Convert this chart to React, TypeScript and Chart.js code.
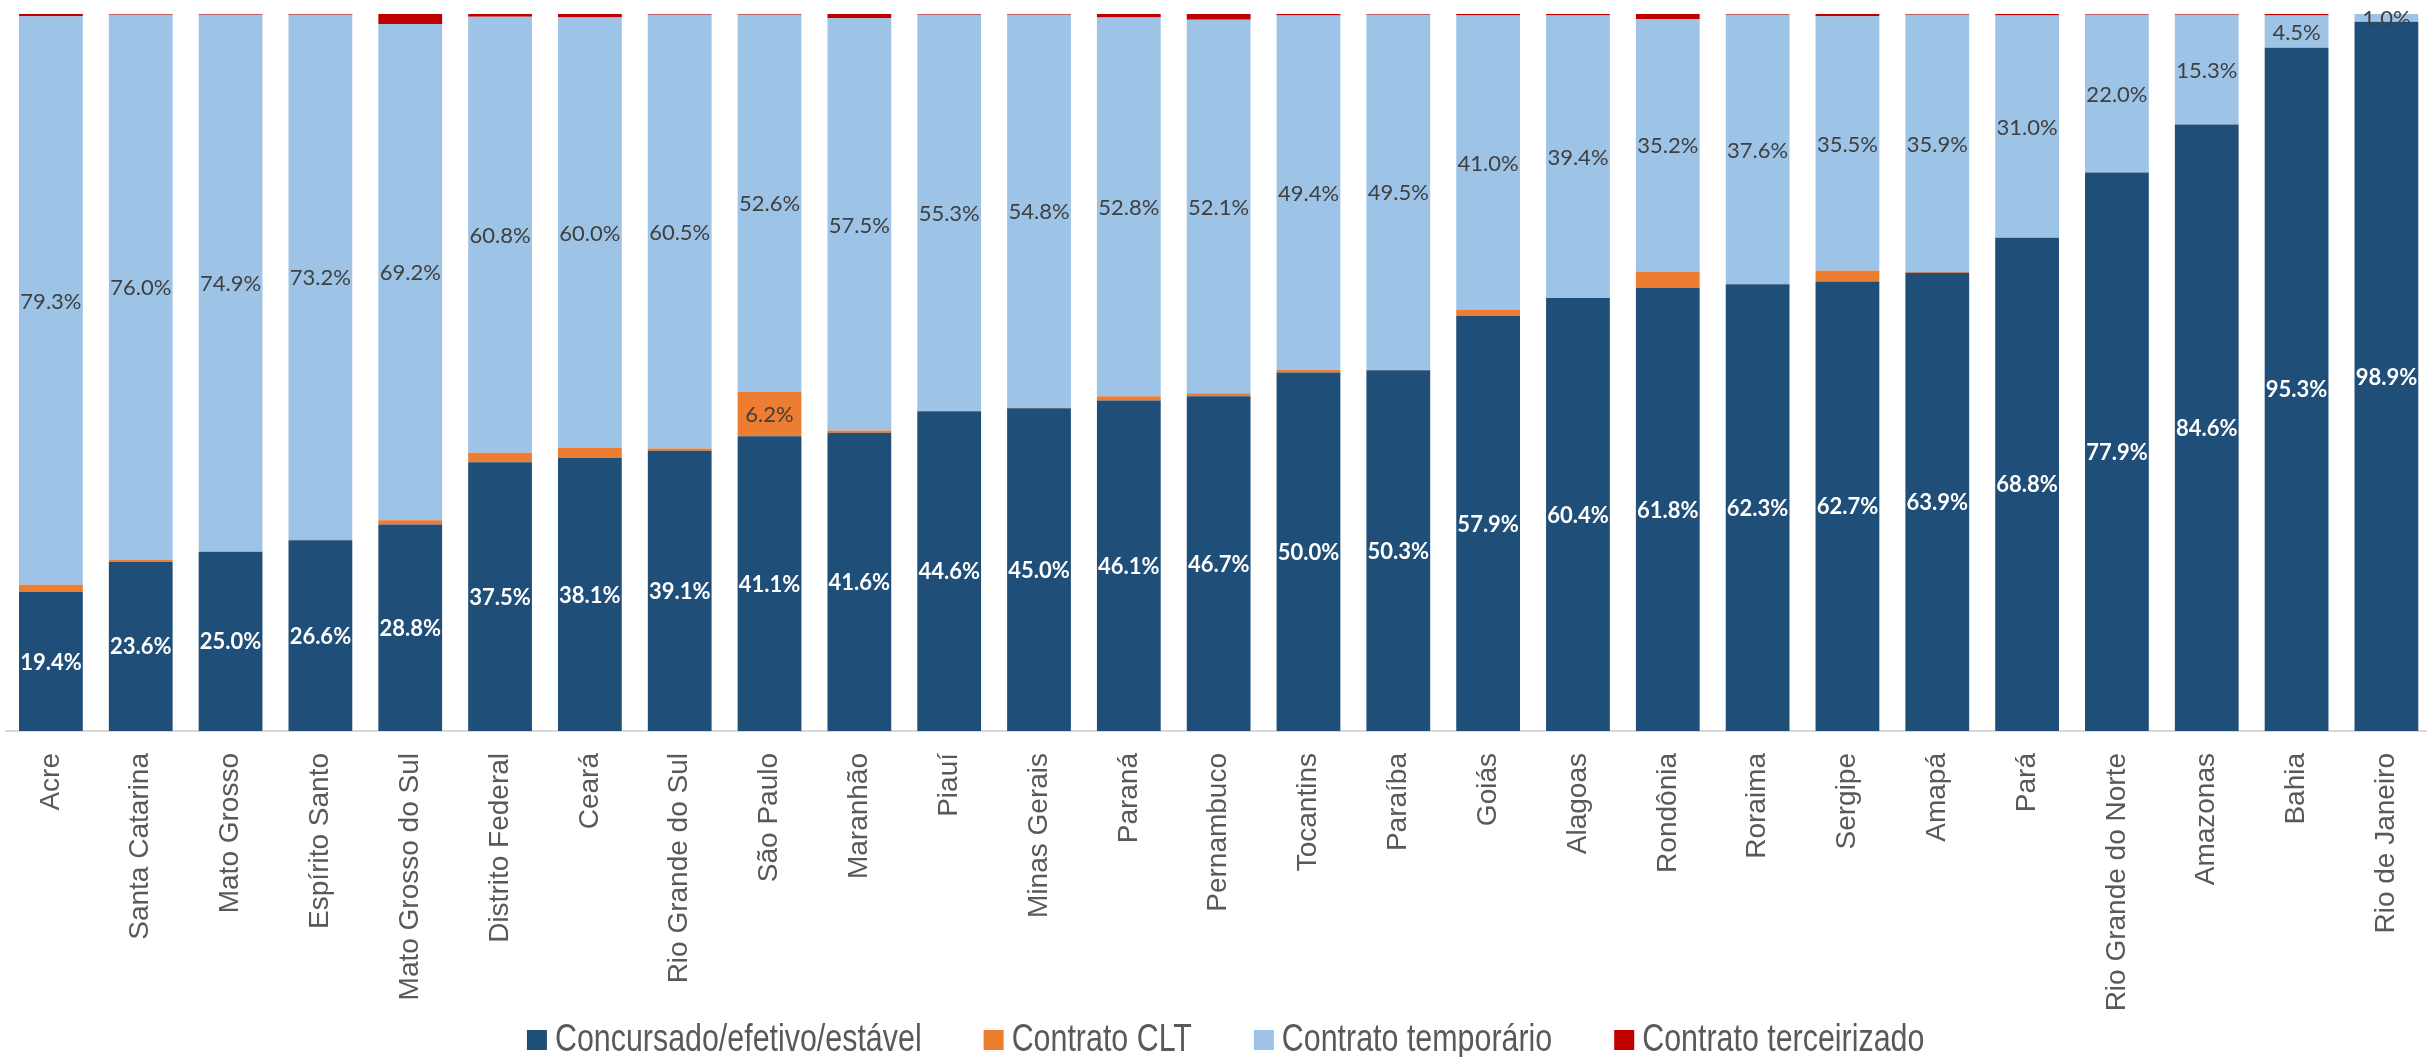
import React, { useEffect, useRef } from "react";
import { Chart, registerables } from "chart.js";

Chart.register(...registerables);

const states = [
  "Acre", "Santa Catarina", "Mato Grosso", "Espírito Santo", "Mato Grosso do Sul",
  "Distrito Federal", "Ceará", "Rio Grande do Sul", "São Paulo", "Maranhão",
  "Piauí", "Minas Gerais", "Paraná", "Pernambuco", "Tocantins", "Paraíba",
  "Goiás", "Alagoas", "Rondônia", "Roraima", "Sergipe", "Amapá", "Pará",
  "Rio Grande do Norte", "Amazonas", "Bahia", "Rio de Janeiro",
];

const concursado = [
  19.4, 23.6, 25.0, 26.6, 28.8, 37.5, 38.1, 39.1, 41.1, 41.6, 44.6, 45.0, 46.1, 46.7,
  50.0, 50.3, 57.9, 60.4, 61.8, 62.3, 62.7, 63.9, 68.8, 77.9, 84.6, 95.3, 98.9,
];
const clt = [
  1.0, 0.3, 0.0, 0.1, 0.6, 1.3, 1.4, 0.3, 6.2, 0.3, 0.0, 0.1, 0.6, 0.4,
  0.4, 0.1, 0.9, 0.0, 2.3, 0.0, 1.5, 0.1, 0.0, 0.0, 0.0, 0.0, 0.1,
];
const temporario = [
  79.3, 76.0, 74.9, 73.2, 69.2, 60.8, 60.0, 60.5, 52.6, 57.5, 55.3, 54.8, 52.8, 52.1,
  49.4, 49.5, 41.0, 39.4, 35.2, 37.6, 35.5, 35.9, 31.0, 22.0, 15.3, 4.5, 1.0,
];
const terceirizado = [
  0.3, 0.1, 0.1, 0.1, 1.4, 0.4, 0.5, 0.1, 0.1, 0.6, 0.1, 0.1, 0.5, 0.8,
  0.2, 0.1, 0.2, 0.2, 0.7, 0.1, 0.3, 0.1, 0.2, 0.1, 0.1, 0.2, 0.0,
];

const seriesNames = [
  "Concursado/efetivo/estável",
  "Contrato CLT",
  "Contrato temporário",
  "Contrato terceirizado",
];
const seriesColors = ["#1F4E79", "#ED7D31", "#9DC3E6", "#C00000"];
const seriesValues = [concursado, clt, temporario, terceirizado];

const CANVAS_W = 2442;
const CANVAS_H = 1057;

export default function App() {
  const ref = useRef<HTMLCanvasElement | null>(null);

  useEffect(() => {
    document.body.style.margin = "0";
    const canvas = ref.current;
    if (!canvas) return;

    const segLabels = {
      id: "segLabels",
      afterDatasetsDraw(chart: any) {
        const ctx = chart.ctx;
        ctx.save();
        ctx.textAlign = "center";
        ctx.textBaseline = "middle";
        chart.data.datasets.forEach((ds: any, di: number) => {
          const meta = chart.getDatasetMeta(di);
          meta.data.forEach((el: any, i: number) => {
            const v = ds.data[i] as number;
            const show = di === 0 || di === 2 || (di === 1 && v >= 3);
            if (!show) return;
            const p = el.getProps(["x", "y", "base"], true);
            ctx.font = di === 0 ? "bold 22px Lato, 'Open Sans', sans-serif" : "22px Lato, 'Open Sans', sans-serif";
            ctx.fillStyle = di === 0 ? "#FFFFFF" : "#404040";
            ctx.fillText(v.toFixed(1) + "%", p.x, (p.y + p.base) / 2 + 1);
          });
        });
        ctx.restore();
      },
    };

    const customLegend = {
      id: "customLegend",
      afterDraw(chart: any) {
        const ctx = chart.ctx;
        ctx.save();
        ctx.font = "38px 'Liberation Sans', Arial, sans-serif";
        ctx.textBaseline = "middle";
        ctx.textAlign = "left";
        const sx = 0.8;
        const box = 20;
        const gapText = 8;
        const gapItem = 62;
        const widths = seriesNames.map((n) => ctx.measureText(n).width * sx);
        const total =
          widths.reduce((a, w) => a + box + gapText + w, 0) + gapItem * (seriesNames.length - 1);
        const center = (chart.chartArea.left + chart.chartArea.right) / 2 + 7;
        let x = center - total / 2;
        const yMid = chart.height - 17;
        seriesNames.forEach((name, i) => {
          ctx.fillStyle = seriesColors[i];
          ctx.fillRect(x, yMid - 10, box, box);
          x += box + gapText;
          ctx.save();
          ctx.translate(x, yMid + 1);
          ctx.scale(sx, 1);
          ctx.fillStyle = "#595959";
          ctx.fillText(name, 0, 0);
          ctx.restore();
          x += widths[i] + gapItem;
        });
        ctx.restore();
      },
    };

    const chart = new Chart(canvas, {
      type: "bar",
      data: {
        labels: states,
        datasets: seriesNames.map((name, i) => ({
          label: name,
          data: seriesValues[i],
          backgroundColor: seriesColors[i],
          borderWidth: 0,
          barPercentage: 0.71,
          categoryPercentage: 1,
        })),
      },
      options: {
        animation: false,
        responsive: false,
        devicePixelRatio: 1,
        layout: { padding: { left: 6, top: 14, right: 0, bottom: 0 } },
        plugins: {
          legend: { display: false },
          tooltip: { enabled: false },
        },
        scales: {
          x: {
            stacked: true,
            grid: { display: false, drawTicks: false },
            border: { display: true, color: "#D9D9D9", width: 2 },
            ticks: {
              color: "#595959",
              font: { family: "'Liberation Sans', Arial, sans-serif", size: 28 },
              minRotation: 90,
              maxRotation: 90,
              autoSkip: false,
              padding: 22,
            },
            afterFit: (s: any) => {
              s.height = CANVAS_H - 731;
            },
          },
          y: { stacked: true, display: false, min: 0, max: 100 },
        },
      },
      plugins: [segLabels, customLegend],
    } as any);

    return () => chart.destroy();
  }, []);

  return (
    <div
      style={{
        position: "absolute",
        left: 0,
        top: 0,
        width: 2427,
        height: 1057,
        overflow: "hidden",
        background: "#FFFFFF",
      }}
    >
      <canvas ref={ref} width={CANVAS_W} height={CANVAS_H} style={{ display: "block" }} />
    </div>
  );
}
